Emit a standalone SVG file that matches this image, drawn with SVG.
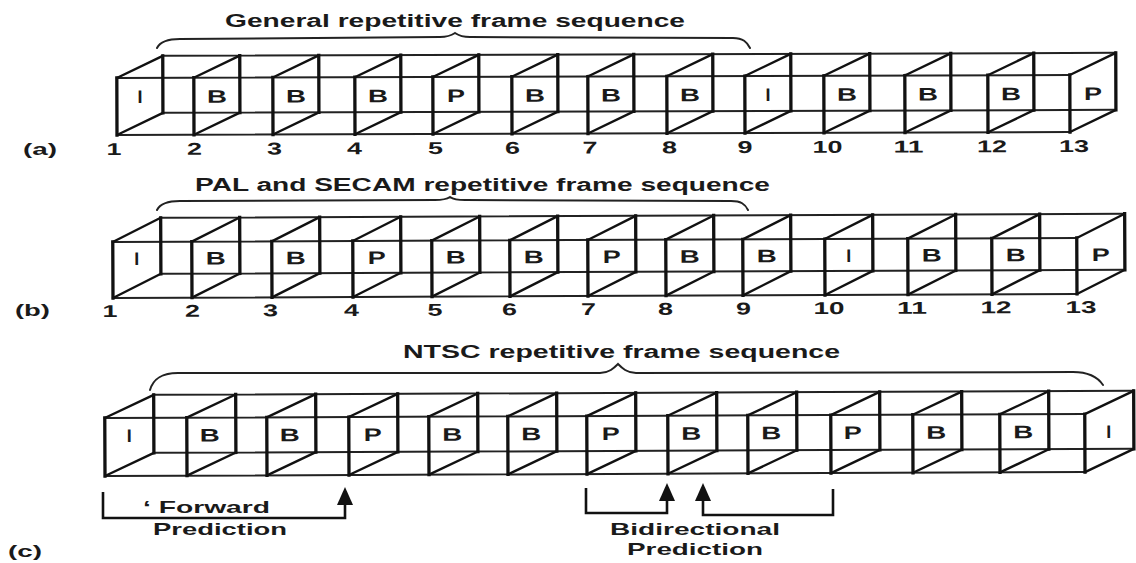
<svg xmlns="http://www.w3.org/2000/svg" xmlns:xlink="http://www.w3.org/1999/xlink" width="1136" height="563" viewBox="0 0 1136 563">
  <style>
    .edge { stroke:#111; stroke-width:3.3; fill:none; stroke-linecap:square; }
    .slant { stroke:#111; stroke-width:2.4; fill:none; stroke-linecap:round; }
    .rail { stroke:#222; stroke-width:2; fill:none; }
    .brace { stroke:#222; stroke-width:2; fill:none; stroke-linecap:round; }
    .link { stroke:#111; stroke-width:2.6; fill:none; }
    .lbl { font-family:"Liberation Sans", Arial, sans-serif; font-weight:bold; fill:#1a1a1a; }
    .frm { font-size:18px; text-anchor:middle; }
    .num { font-size:17px; text-anchor:middle; }
    .ttl { font-size:18px; }
    .tag { font-size:16px; }
    .cap { font-size:17px; }
  </style>
  <defs>
    <!-- one picture frame drawn in oblique projection, origin at its front-top corner -->
    <g id="fa">
      <path class="slant" d="M0,0 L46,-22 M0,57 L46,35"/>
      <path class="edge" d="M0,0 V57 M46,-22 V35"/>
    </g>
    <g id="fb">
      <path class="slant" d="M0,0 L48,-24 M0,56 L48,32"/>
      <path class="edge" d="M0,0 V56 M48,-24 V32"/>
    </g>
    <g id="fc">
      <path class="slant" d="M0,0 L49,-23 M0,58 L49,35"/>
      <path class="edge" d="M0,0 V58 M49,-23 V35"/>
    </g>
    <marker id="head" viewBox="0 0 18 16" refX="14" refY="8" markerWidth="18" markerHeight="16" markerUnits="userSpaceOnUse" orient="auto">
      <path d="M0,0 L18,8 L0,16 Z" fill="#111"/>
    </marker>
  </defs>
  <rect width="1136" height="563" fill="#fff"/>

  <!-- (a) general sequence -->
  <text class="lbl ttl" x="225" y="27" textLength="460" lengthAdjust="spacingAndGlyphs">General repetitive frame sequence</text>
  <path class="brace" d="M157,48 C160,42 166,39 180,39 L440,37 C448,37 452,35 455,33 C458,35 462,37 470,37 L733,38 C743,38 747,42 750,48"/>
  <text class="lbl tag" x="23" y="155" textLength="34" lengthAdjust="spacingAndGlyphs">(a)</text>
  <g id="rowA" transform="rotate(-0.18 117 135)">
    <g id="railsA">
      <path class="rail" d="M163,56 H1116 M117,78 H1070 M163,113 H1116 M117,135 H1070"/>
    </g>
    <g id="a1"><use xlink:href="#fa" x="117" y="78"/><text class="lbl frm" x="140" y="103">I</text></g>
    <g id="a2"><use xlink:href="#fa" x="194" y="78"/><text class="lbl frm" x="217" y="103" textLength="20" lengthAdjust="spacingAndGlyphs">B</text></g>
    <g id="a3"><use xlink:href="#fa" x="273" y="78"/><text class="lbl frm" x="296" y="103" textLength="20" lengthAdjust="spacingAndGlyphs">B</text></g>
    <g id="a4"><use xlink:href="#fa" x="355" y="78"/><text class="lbl frm" x="378" y="103" textLength="20" lengthAdjust="spacingAndGlyphs">B</text></g>
    <g id="a5"><use xlink:href="#fa" x="433" y="78"/><text class="lbl frm" x="456" y="103" textLength="18" lengthAdjust="spacingAndGlyphs">P</text></g>
    <g id="a6"><use xlink:href="#fa" x="512" y="78"/><text class="lbl frm" x="535" y="103" textLength="20" lengthAdjust="spacingAndGlyphs">B</text></g>
    <g id="a7"><use xlink:href="#fa" x="588" y="78"/><text class="lbl frm" x="611" y="103" textLength="20" lengthAdjust="spacingAndGlyphs">B</text></g>
    <g id="a8"><use xlink:href="#fa" x="667" y="78"/><text class="lbl frm" x="690" y="103" textLength="20" lengthAdjust="spacingAndGlyphs">B</text></g>
    <g id="a9"><use xlink:href="#fa" x="745" y="78"/><text class="lbl frm" x="768" y="103">I</text></g>
    <g id="a10"><use xlink:href="#fa" x="824" y="78"/><text class="lbl frm" x="847" y="103" textLength="20" lengthAdjust="spacingAndGlyphs">B</text></g>
    <g id="a11"><use xlink:href="#fa" x="905" y="78"/><text class="lbl frm" x="928" y="103" textLength="20" lengthAdjust="spacingAndGlyphs">B</text></g>
    <g id="a12"><use xlink:href="#fa" x="988" y="78"/><text class="lbl frm" x="1011" y="103" textLength="20" lengthAdjust="spacingAndGlyphs">B</text></g>
    <g id="a13"><use xlink:href="#fa" x="1070" y="78"/><text class="lbl frm" x="1093" y="103" textLength="18" lengthAdjust="spacingAndGlyphs">P</text></g>
    <g id="numsA" class="lbl num">
      <text x="114" y="155" textLength="15" lengthAdjust="spacingAndGlyphs">1</text>
      <text x="194.5" y="155" textLength="15" lengthAdjust="spacingAndGlyphs">2</text>
      <text x="274.5" y="155" textLength="15" lengthAdjust="spacingAndGlyphs">3</text>
      <text x="354.5" y="155" textLength="15" lengthAdjust="spacingAndGlyphs">4</text>
      <text x="435.5" y="155" textLength="15" lengthAdjust="spacingAndGlyphs">5</text>
      <text x="512.5" y="155" textLength="15" lengthAdjust="spacingAndGlyphs">6</text>
      <text x="590" y="155" textLength="15" lengthAdjust="spacingAndGlyphs">7</text>
      <text x="669.5" y="155" textLength="15" lengthAdjust="spacingAndGlyphs">8</text>
      <text x="745" y="155" textLength="15" lengthAdjust="spacingAndGlyphs">9</text>
      <text x="827.5" y="155" textLength="30" lengthAdjust="spacingAndGlyphs">10</text>
      <text x="908.5" y="155" textLength="30" lengthAdjust="spacingAndGlyphs">11</text>
      <text x="992" y="155" textLength="30" lengthAdjust="spacingAndGlyphs">12</text>
      <text x="1074" y="155" textLength="30" lengthAdjust="spacingAndGlyphs">13</text>
    </g>
  </g>

  <!-- (b) PAL and SECAM sequence -->
  <text class="lbl ttl" x="195" y="191" textLength="575" lengthAdjust="spacingAndGlyphs">PAL and SECAM repetitive frame sequence</text>
  <path class="brace" d="M157,210 C160,204 166,201 180,201 L435,200 C443,200 447,199 450,197 C453,199 457,200 465,200 L731,201 C741,201 745,204 748,210"/>
  <text class="lbl tag" x="15" y="316" textLength="35" lengthAdjust="spacingAndGlyphs">(b)</text>
  <g id="rowB" transform="rotate(-0.24 113 298)">
    <g id="railsB">
      <path class="rail" d="M161,218 H1125 M113,242 H1077 M161,274 H1125 M113,298 H1077"/>
    </g>
    <g id="b1"><use xlink:href="#fb" x="113" y="242"/><text class="lbl frm" x="137" y="265">I</text></g>
    <g id="b2"><use xlink:href="#fb" x="192" y="242"/><text class="lbl frm" x="216" y="265" textLength="20" lengthAdjust="spacingAndGlyphs">B</text></g>
    <g id="b3"><use xlink:href="#fb" x="272" y="242"/><text class="lbl frm" x="296" y="265" textLength="20" lengthAdjust="spacingAndGlyphs">B</text></g>
    <g id="b4"><use xlink:href="#fb" x="353" y="242"/><text class="lbl frm" x="377" y="265" textLength="18" lengthAdjust="spacingAndGlyphs">P</text></g>
    <g id="b5"><use xlink:href="#fb" x="432" y="242"/><text class="lbl frm" x="456" y="265" textLength="20" lengthAdjust="spacingAndGlyphs">B</text></g>
    <g id="b6"><use xlink:href="#fb" x="510" y="242"/><text class="lbl frm" x="534" y="265" textLength="20" lengthAdjust="spacingAndGlyphs">B</text></g>
    <g id="b7"><use xlink:href="#fb" x="588" y="242"/><text class="lbl frm" x="612" y="265" textLength="18" lengthAdjust="spacingAndGlyphs">P</text></g>
    <g id="b8"><use xlink:href="#fb" x="666" y="242"/><text class="lbl frm" x="690" y="265" textLength="20" lengthAdjust="spacingAndGlyphs">B</text></g>
    <g id="b9"><use xlink:href="#fb" x="743" y="242"/><text class="lbl frm" x="767" y="265" textLength="20" lengthAdjust="spacingAndGlyphs">B</text></g>
    <g id="b10"><use xlink:href="#fb" x="825" y="242"/><text class="lbl frm" x="849" y="265">I</text></g>
    <g id="b11"><use xlink:href="#fb" x="908" y="242"/><text class="lbl frm" x="932" y="265" textLength="20" lengthAdjust="spacingAndGlyphs">B</text></g>
    <g id="b12"><use xlink:href="#fb" x="992" y="242"/><text class="lbl frm" x="1016" y="265" textLength="20" lengthAdjust="spacingAndGlyphs">B</text></g>
    <g id="b13"><use xlink:href="#fb" x="1077" y="242"/><text class="lbl frm" x="1101" y="265" textLength="18" lengthAdjust="spacingAndGlyphs">P</text></g>
    <g id="numsB" class="lbl num">
      <text x="110" y="317" textLength="15" lengthAdjust="spacingAndGlyphs">1</text>
      <text x="192.5" y="317" textLength="15" lengthAdjust="spacingAndGlyphs">2</text>
      <text x="270.5" y="317" textLength="15" lengthAdjust="spacingAndGlyphs">3</text>
      <text x="351.5" y="317" textLength="15" lengthAdjust="spacingAndGlyphs">4</text>
      <text x="435" y="317" textLength="15" lengthAdjust="spacingAndGlyphs">5</text>
      <text x="509.5" y="317" textLength="15" lengthAdjust="spacingAndGlyphs">6</text>
      <text x="588.5" y="317" textLength="15" lengthAdjust="spacingAndGlyphs">7</text>
      <text x="665.5" y="317" textLength="15" lengthAdjust="spacingAndGlyphs">8</text>
      <text x="743.5" y="317" textLength="15" lengthAdjust="spacingAndGlyphs">9</text>
      <text x="829" y="317" textLength="31" lengthAdjust="spacingAndGlyphs">10</text>
      <text x="912" y="317" textLength="30" lengthAdjust="spacingAndGlyphs">11</text>
      <text x="996" y="317" textLength="31" lengthAdjust="spacingAndGlyphs">12</text>
      <text x="1081" y="317" textLength="31" lengthAdjust="spacingAndGlyphs">13</text>
    </g>
  </g>

  <!-- (c) NTSC sequence -->
  <text class="lbl ttl" x="403" y="358" textLength="437" lengthAdjust="spacingAndGlyphs">NTSC repetitive frame sequence</text>
  <path class="brace" d="M150,390 C153,380 160,373 178,373 L600,373 C609,373 614,368 618,364 C622,368 627,373 636,373 L1073,372 C1088,372 1097,376 1103,385"/>
  <text class="lbl tag" x="8" y="557" textLength="34" lengthAdjust="spacingAndGlyphs">(c)</text>
  <g id="rowC" transform="rotate(-0.23 105 476)">
    <g id="railsC">
      <path class="rail" d="M154,395 H1134 M105,418 H1085 M154,453 H1134 M105,476 H1085"/>
    </g>
    <g id="c1"><use xlink:href="#fc" x="105" y="418"/><text class="lbl frm" x="129.5" y="442">I</text></g>
    <g id="c2"><use xlink:href="#fc" x="187" y="418"/><text class="lbl frm" x="210" y="442" textLength="20" lengthAdjust="spacingAndGlyphs">B</text></g>
    <g id="c3"><use xlink:href="#fc" x="267" y="418"/><text class="lbl frm" x="290" y="442" textLength="20" lengthAdjust="spacingAndGlyphs">B</text></g>
    <g id="c4"><use xlink:href="#fc" x="349" y="418"/><text class="lbl frm" x="373" y="442" textLength="18" lengthAdjust="spacingAndGlyphs">P</text></g>
    <g id="c5"><use xlink:href="#fc" x="429" y="418"/><text class="lbl frm" x="452.5" y="442" textLength="20" lengthAdjust="spacingAndGlyphs">B</text></g>
    <g id="c6"><use xlink:href="#fc" x="508" y="418"/><text class="lbl frm" x="531.5" y="442" textLength="20" lengthAdjust="spacingAndGlyphs">B</text></g>
    <g id="c7"><use xlink:href="#fc" x="587" y="418"/><text class="lbl frm" x="611" y="442" textLength="18" lengthAdjust="spacingAndGlyphs">P</text></g>
    <g id="c8"><use xlink:href="#fc" x="668" y="418"/><text class="lbl frm" x="691.5" y="442" textLength="20" lengthAdjust="spacingAndGlyphs">B</text></g>
    <g id="c9"><use xlink:href="#fc" x="748" y="418"/><text class="lbl frm" x="771.5" y="442" textLength="20" lengthAdjust="spacingAndGlyphs">B</text></g>
    <g id="c10"><use xlink:href="#fc" x="831" y="418"/><text class="lbl frm" x="853" y="442" textLength="18" lengthAdjust="spacingAndGlyphs">P</text></g>
    <g id="c11"><use xlink:href="#fc" x="913" y="418"/><text class="lbl frm" x="936.5" y="442" textLength="20" lengthAdjust="spacingAndGlyphs">B</text></g>
    <g id="c12"><use xlink:href="#fc" x="1000" y="418"/><text class="lbl frm" x="1023.5" y="442" textLength="20" lengthAdjust="spacingAndGlyphs">B</text></g>
    <g id="c13"><use xlink:href="#fc" x="1085" y="418"/><text class="lbl frm" x="1109" y="442">I</text></g>
  </g>

  <!-- prediction references between frames -->
  <g id="connectors">
    <path id="fwd" class="link" d="M103,492 V518 H345 V491" marker-end="url(#head)"/>
    <path id="bidiL" class="link" d="M586,488 V513 H667 V487" marker-end="url(#head)"/>
    <path id="bidiR" class="link" d="M833,489 V515 H703 V487" marker-end="url(#head)"/>
  </g>
  <g id="fwdLabel" class="lbl cap">
    <text x="143" y="513" textLength="127" lengthAdjust="spacingAndGlyphs">‘ Forward</text>
    <text x="153" y="535" textLength="134" lengthAdjust="spacingAndGlyphs">Prediction</text>
  </g>
  <g id="bidiLabel" class="lbl cap">
    <text x="610" y="535" textLength="170" lengthAdjust="spacingAndGlyphs">Bidirectional</text>
    <text x="627" y="555" textLength="136" lengthAdjust="spacingAndGlyphs">Prediction</text>
  </g>
</svg>
